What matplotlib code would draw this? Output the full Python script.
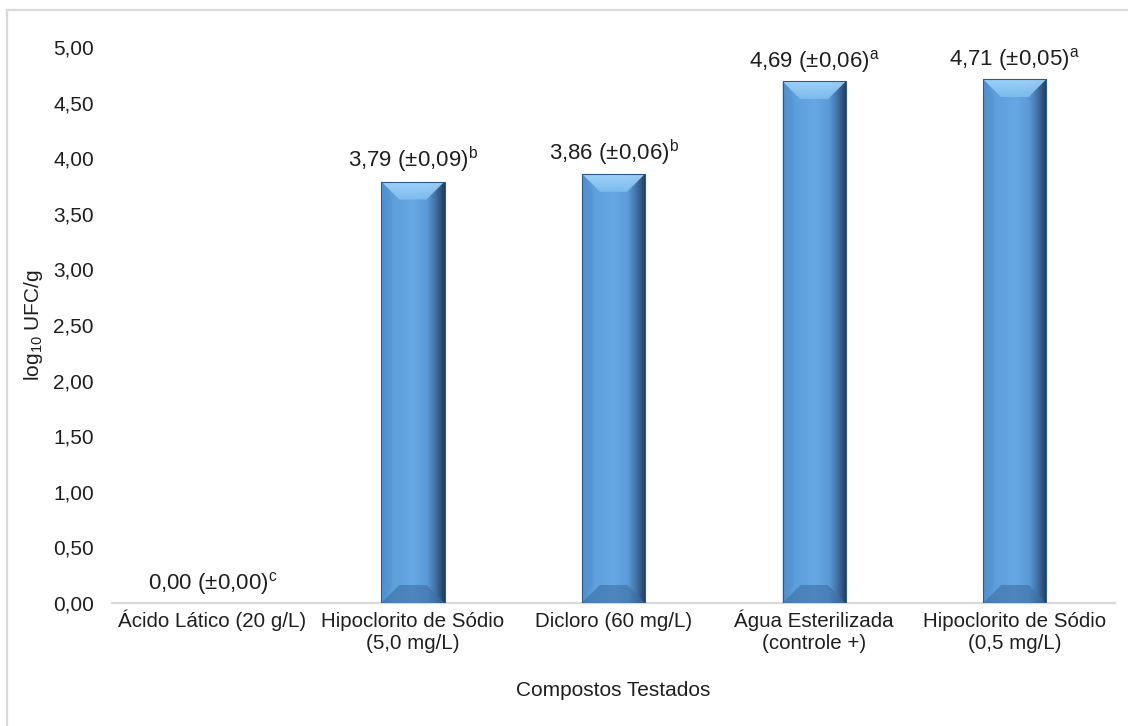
import numpy as np
from matplotlib import pyplot as plt
from matplotlib import lines
from matplotlib import patches
from matplotlib.colors import LinearSegmentedColormap

plt.rcParams['font.family'] = ['Liberation Sans', 'DejaVu Sans']
plt.rcParams['mathtext.fontset'] = 'custom'
plt.rcParams['mathtext.rm'] = 'Liberation Sans'
plt.rcParams['mathtext.it'] = 'Liberation Sans:italic'

# data
CATEGORIES = ['Ácido Lático (20 g/L)', 'Hipoclorito de Sódio\n(5,0 mg/L)', 'Dicloro (60 mg/L)',
              'Água Esterilizada\n(controle +)', 'Hipoclorito de Sódio\n(0,5 mg/L)']
MEANS = [0.00, 3.79, 3.86, 4.69, 4.71]
SDS = [0.00, 0.09, 0.06, 0.06, 0.05]
GROUPS = ['c', 'b', 'b', 'a', 'a']
YTICKS = [0.0, 0.5, 1.0, 1.5, 2.0, 2.5, 3.0, 3.5, 4.0, 4.5, 5.0]

TEXT = '#1f1f1f'
BAR_W = 0.315
BEVEL_PX = 18

fig = plt.figure(figsize=(11.28, 7.26), dpi=100)
ax = fig.add_axes([0.0993, 0.1694, 0.8892, 0.7659])

x = np.arange(len(CATEGORIES))
bars = ax.bar(x, MEANS, BAR_W, color='#5b9bd5', edgecolor='none', zorder=2)

ax.set_xlim(-0.5, len(CATEGORIES) - 0.5)
ax.set_ylim(0, 5.0)
ax.set_yticks(YTICKS)
ax.yaxis.set_major_formatter(plt.FuncFormatter(lambda v, p: ('%.2f' % v).replace('.', ',')))
ax.set_xticks(x)
# every label gets two lines so the first lines share one baseline
ax.set_xticklabels([c if '\n' in c else c + '\n ' for c in CATEGORIES], va='baseline')
ax.tick_params(axis='both', length=0, colors=TEXT)
ax.tick_params(axis='y', pad=13, labelsize=15)
ax.tick_params(axis='x', pad=33, labelsize=14.8)
for s in ['left', 'right', 'top']:
    ax.spines[s].set_visible(False)
ax.spines['bottom'].set_color('#d9d9d9')
ax.spines['bottom'].set_linewidth(1.6)

ax.set_ylabel('log$_{10}$ UFC/g', fontsize=15, color=TEXT, labelpad=6)
ax.set_xlabel('Compostos Testados', fontsize=15, color=TEXT, labelpad=20)

# bevel look: horizontal gradient plus light top / dark bottom facets
grad = LinearSegmentedColormap.from_list('bev', [
    (0.0, '#4d8ccb'), (0.18, '#5d9edb'), (0.5, '#66a8e3'),
    (0.72, '#5b9ad6'), (0.86, '#416fa3'), (1.0, '#1f3b5a')])
ramp = np.linspace(0, 1, 256).reshape(1, -1)
top_grad = LinearSegmentedColormap.from_list('topbev', ['#7fbcef', '#a3d6fb'])
vramp = np.linspace(0, 1, 64).reshape(-1, 1)

fig.canvas.draw()
bb = ax.get_window_extent()
sx = bb.width / 5.0
sy = bb.height / 5.0
dx = BEVEL_PX / sx
dy = BEVEL_PX / sy

for b in bars:
    h = b.get_height()
    if h <= 0:
        continue
    x0 = b.get_x()
    w = b.get_width()
    x1 = x0 + w
    im = ax.imshow(ramp, cmap=grad, aspect='auto', extent=[x0, x1, 0, h], zorder=3,
                   interpolation='bicubic')
    im.set_clip_path(b)
    top = patches.Polygon([[x0, h], [x1, h], [x1 - dx, h - dy], [x0 + dx, h - dy]],
                          closed=True, facecolor='none', edgecolor='none', zorder=4)
    ax.add_patch(top)
    tim = ax.imshow(vramp, cmap=top_grad, aspect='auto', origin='lower',
                    extent=[x0, x1, h - dy, h], zorder=4, alpha=0.92)
    tim.set_clip_path(top)
    left = patches.Polygon([[x0, h], [x0 + dx * 0.6, h - dy], [x0 + dx * 0.6, dy], [x0, 0]],
                           closed=True, facecolor='#5393d2', edgecolor='none', alpha=0.5, zorder=4)
    ax.add_patch(left)
    bottom = patches.Polygon([[x0, 0], [x1, 0], [x1 - dx, dy], [x0 + dx, dy]],
                             closed=True, facecolor='#3d6fa4', edgecolor='none', alpha=0.6, zorder=4)
    ax.add_patch(bottom)
    edge = patches.Rectangle((x0, 0), w, h, facecolor='none', edgecolor='#2f5a88',
                             linewidth=0.8, zorder=5)
    ax.add_patch(edge)

# value labels with letter groups
for xi, m, sd, g in zip(x, MEANS, SDS, GROUPS):
    txt = ('%.2f (±%.2f)' % (m, sd)).replace('.', ',') + '$^{\\mathrm{%s}}$' % g
    ax.annotate(txt, (xi, m), xytext=(0, 10), textcoords='offset points',
                ha='center', va='baseline', fontsize=16, color=TEXT, zorder=6)

# outer chart frame (left and top edges visible)
fig.add_artist(lines.Line2D([7 / 1128, 7 / 1128], [0, 1 - 10 / 726], color='#d9d9d9',
                            linewidth=1.6, transform=fig.transFigure))
fig.add_artist(lines.Line2D([7 / 1128, 1], [1 - 10 / 726, 1 - 10 / 726], color='#d9d9d9',
                            linewidth=1.6, transform=fig.transFigure))

fig.savefig('out.png', dpi=100, facecolor='white')
